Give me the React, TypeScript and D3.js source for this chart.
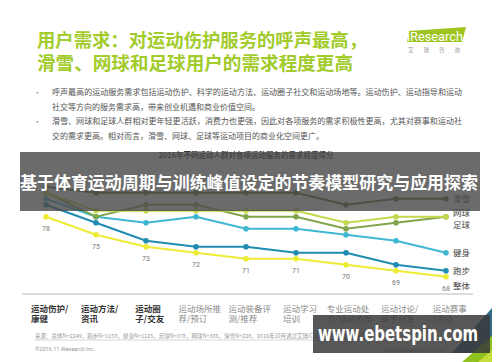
import { useEffect, useRef } from 'react';
import * as d3 from 'd3';

// Categories (two text lines each) along the x axis
const categoryLines: string[][] = [
  ['运动伤护/', '康健'],
  ['运动方法/', '资讯'],
  ['运动圈', '子/交友'],
  ['运动场所推', '荐/预订'],
  ['运动装备评', '测/推荐'],
  ['运动学习', '培训'],
  ['专业运动处', '方/运动方案'],
  ['运动讨论/', '高手分享'],
  ['运动赛事', '/活动'],
];
const boldCount = 3;

const seriesNames = ['滑雪', '网球', '足球', '健身', '跑步', '整体'];
const skiing = [83, 82, 82, 82, 82, 82, 80, 81, 81];
const tennis = [82, 79, 79, 79, 79, 79, 77, 78, 78];
const football = [82, 78, 80, 80, 78, 78, 76, 77, 78];
const fitness = [81, 78, 77, 78, 76, 76, 75, 74, 72];
const running = [80, 77, 74, 73, 73, 72, 72, 70, 69];
const overall = [78, 75, 73, 72, 71, 71, 70, 69, 68];

const seriesColors = ['#56692a', '#c3d84c', '#7fa64c', '#3fb7d3', '#1f8cb2', '#ecec34'];
const legendNudge = [0, -4, 8, 0, 0, 9];

const titleLines = ['用户需求：对运动伤护服务的呼声最高，', '滑雪、网球和足球用户的需求程度更高'];
const bulletLines = [
  ['呼声最高的运动服务需求包括运动伤护、科学的运动方法、运动圈子社交和运动场地等。运动伤护、运动指导和运动',
    '社交等方向的服务需求高，带来创业机遇和商业价值空间。'],
  ['滑雪、网球和足球人群相对更年轻更活跃，消费力也更强，因此对各项服务的需求积极性更高，尤其对赛事和运动社',
    '交的需求更高。相对而言，滑雪、网球、足球等运动项目的商业化空间更广。'],
];
const chartTitle = '2016年不同运动人群对各项运动服务的需求程度得分';
const bannerText = '基于体育运动周期与训练峰值设定的节奏模型研究与应用探索';
const sourceText = '来源：总体N=2249，跑步N=1159，健身N=1125，足球N=378，网球N=385，滑雪N=228，2016年10月通过艾瑞iClick社区联机调研获得。';
const watermark = 'www.ebetspin.com';

const CJK = '"Noto Sans CJK SC", "Noto Sans", sans-serif';

export default function App() {
  const svgRef = useRef<SVGSVGElement>(null);

  useEffect(() => {
    if (!svgRef.current) return;
    const svg = d3.select(svgRef.current);
    svg.selectAll('*').remove();

    svg.append('rect').attr('width', 500).attr('height', 362).attr('fill', '#fff');

    // Header title
    titleLines.forEach((t, i) => {
      svg.append('text')
        .attr('x', 37)
        .attr('y', 47 + i * 23)
        .attr('textLength', i === 0 ? 330 : 316)
        .attr('lengthAdjust', 'spacingAndGlyphs')
        .style('font-family', CJK)
        .style('font-size', '18.5px')
        .style('font-weight', 700)
        .attr('fill', '#a2cb2c')
        .text(t);
    });

    // iResearch logo
    const logo = svg.append('g');
    logo.append('polygon')
      .attr('points', '409,31 466,27 462,42 407,42')
      .attr('fill', '#9dc41f');
    logo.append('text')
      .attr('x', 407)
      .attr('y', 40.5)
      .attr('textLength', 56)
      .attr('lengthAdjust', 'spacingAndGlyphs')
      .style('font-family', 'Roboto, sans-serif')
      .style('font-size', '12px')
      .attr('fill', '#fff')
      .text('iResearch');
    logo.append('text')
      .attr('x', 408)
      .attr('y', 52)
      .attr('textLength', 52)
      .attr('lengthAdjust', 'spacing')
      .style('font-family', CJK)
      .style('font-size', '5.5px')
      .attr('fill', '#999')
      .text('艾瑞咨询');

    // Bullets
    bulletLines.forEach((lines, b) => {
      svg.append('text')
        .attr('x', 36)
        .attr('y', 95 + b * 29)
        .style('font-size', '7px')
        .attr('fill', '#777')
        .text('•');
      lines.forEach((t, j) => {
        svg.append('text')
          .attr('x', 52)
          .attr('y', 95 + b * 29 + j * 14.5)
          .attr('textLength', j === 0 ? 410 : undefined as any)
          .attr('lengthAdjust', 'spacingAndGlyphs')
          .style('font-family', CJK)
          .style('font-size', '8px')
          .attr('fill', '#555')
          .text(t);
      });
    });

    // Chart title
    svg.append('text')
      .attr('x', 246)
      .attr('y', 158)
      .attr('text-anchor', 'middle')
      .style('font-family', CJK)
      .style('font-size', '7.5px')
      .style('font-weight', 700)
      .attr('fill', '#333')
      .text(chartTitle);

    // Scales
    const x = d3.scalePoint<number>()
      .domain(d3.range(categoryLines.length))
      .range([46, 446]);
    const y = d3.scaleLinear().domain([68, 78]).range([276.7, 216.7]);

    const allSeries = [skiing, tennis, football, fitness, running, overall];
    const line = d3.line<number>()
      .x((_, i) => x(i) as number)
      .y(d => y(d));

    // Draw from bottom series up so upper lines sit on top
    for (let s = allSeries.length - 1; s >= 0; s--) {
      const data = allSeries[s];
      svg.append('path')
        .datum(data)
        .attr('fill', 'none')
        .attr('stroke', seriesColors[s])
        .attr('stroke-width', 2)
        .attr('d', line);
      svg.append('g')
        .selectAll('circle')
        .data(data)
        .join('circle')
        .attr('cx', (_, i) => x(i) as number)
        .attr('cy', d => y(d))
        .attr('r', 2.8)
        .attr('fill', seriesColors[s]);
    }

    // Value labels for overall
    svg.append('g')
      .selectAll('text')
      .data(overall)
      .join('text')
      .attr('x', (_, i) => x(i) as number)
      .attr('y', d => y(d) + 14)
      .attr('text-anchor', 'middle')
      .style('font-family', 'Roboto, sans-serif')
      .style('font-size', '7px')
      .attr('fill', '#777')
      .text(d => d);

    // Series labels at right
    seriesNames.forEach((name, s) => {
      const data = allSeries[s];
      svg.append('text')
        .attr('x', 453)
        .attr('y', y(data[data.length - 1]) + legendNudge[s] + 3)
        .style('font-family', CJK)
        .style('font-size', '8.5px')
        .attr('fill', '#444')
        .text(name);
    });

    // Axis line
    svg.append('line')
      .attr('x1', 22).attr('x2', 473)
      .attr('y1', 294).attr('y2', 294)
      .attr('stroke', '#aaa')
      .attr('stroke-width', 0.8);

    // Category labels
    categoryLines.forEach((lines, i) => {
      const g = svg.append('g');
      lines.forEach((t, j) => {
        g.append('text')
          .attr('x', 0)
          .attr('y', 311.5 + j * 10.5)
          .style('font-family', CJK)
          .style('font-size', '8.5px')
          .style('font-weight', i < boldCount ? 700 : 400)
          .attr('fill', i < boldCount ? '#333' : '#8a8a8a')
          .text(t);
      });
      const w = (g.node() as SVGGElement).getBBox().width;
      g.attr('transform', `translate(${(x(i) as number) + 4 - w / 2},0)`);
    });

    // Footer
    svg.append('text')
      .attr('x', 35)
      .attr('y', 338)
      .style('font-family', CJK)
      .style('font-size', '5.5px')
      .attr('fill', '#999')
      .text(sourceText);
    svg.append('line')
      .attr('x1', 35).attr('x2', 470)
      .attr('y1', 340).attr('y2', 340)
      .attr('stroke', '#bbb')
      .attr('stroke-width', 0.6);
    svg.append('text')
      .attr('x', 35)
      .attr('y', 351)
      .style('font-family', 'Roboto, sans-serif')
      .style('font-size', '5.5px')
      .attr('fill', '#999')
      .text('©2016.11 iResearch Inc.');
    svg.append('text')
      .attr('x', 385)
      .attr('y', 352)
      .style('font-family', 'Roboto, sans-serif')
      .style('font-size', '6px')
      .attr('fill', '#999')
      .text('www.iresearch.com.cn');
    svg.append('text')
      .attr('x', 474)
      .attr('y', 352)
      .style('font-family', 'Roboto, sans-serif')
      .style('font-size', '6.5px')
      .attr('fill', '#999')
      .text('29');

    // Decorative corner triangles
    svg.append('polygon')
      .attr('points', '492,308 492,353 452,353')
      .attr('fill', '#2f6e86');
    svg.append('polygon')
      .attr('points', '492,336 492,362 462,362')
      .attr('fill', '#8fc220');
    svg.append('polygon')
      .attr('points', '492,350 492,362 478,362')
      .attr('fill', '#c6dc3a');

    // Overlay banner
    svg.append('rect')
      .attr('x', 20).attr('y', 152)
      .attr('width', 460).attr('height', 59)
      .attr('fill', '#4b4b4b')
      .attr('opacity', 0.82);
    svg.append('text')
      .attr('x', 20)
      .attr('y', 189)
      .attr('textLength', 458)
      .attr('lengthAdjust', 'spacingAndGlyphs')
      .style('font-family', CJK)
      .style('font-size', '17px')
      .style('font-weight', 700)
      .attr('fill', '#fff')
      .text(bannerText);

    // Watermark box
    svg.append('rect')
      .attr('x', 313).attr('y', 315)
      .attr('width', 177).attr('height', 38)
      .attr('fill', '#3a3a3a')
      .attr('opacity', 0.85);
    svg.append('text')
      .attr('x', 318)
      .attr('y', 341)
      .attr('textLength', 160)
      .attr('lengthAdjust', 'spacingAndGlyphs')
      .style('font-family', '"DejaVu Sans", sans-serif')
      .style('font-size', '21px')
      .style('font-weight', 700)
      .attr('fill', '#fff')
      .text(watermark);
  }, []);

  return (
    <div style={{ position: 'fixed', left: 0, top: 0 }}>
      <svg ref={svgRef} width={500} height={362} style={{ display: 'block' }} />
    </div>
  );
}
